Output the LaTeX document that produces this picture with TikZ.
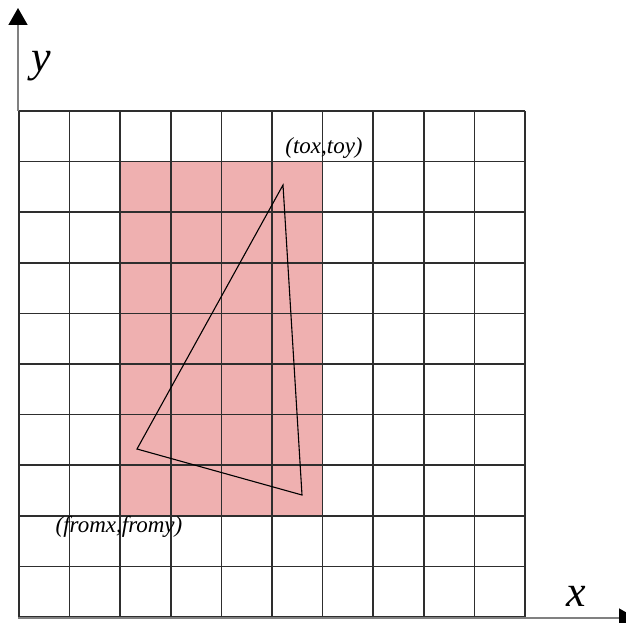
\documentclass[tikz,border=0pt]{standalone}
\usepackage{fontspec}
\setmainfont{Liberation Serif}
\usetikzlibrary{arrows.meta}
\definecolor{gridc}{HTML}{2E2E2E}
\definecolor{axisc}{HTML}{808080}
\definecolor{pinkc}{HTML}{EFB0B0}
\tikzset{
  gridline/.style={draw=gridc, line width=1.6pt},
  axisline/.style={draw=axisc, line width=1.5pt, -{Triangle[length=17pt,width=19pt,fill=black,color=black]}},
  tri/.style={draw=black, line width=1.1pt, line join=miter},
  lbl/.style={font=\fontsize{23}{23}\selectfont\itshape, inner sep=0pt},
  axlbl/.style={font=\fontsize{44}{44}\selectfont\itshape, inner sep=0pt}
}
\begin{document}
\begin{tikzpicture}[x=1pt,y=-1pt]
\useasboundingbox (0,0) rectangle (626,623);
\fill[white] (0,0) rectangle (626,623);
% pink region
\fill[pinkc] (120.2,161.6) rectangle (322.6,516.2);
% grid
\foreach \i in {0,...,10} {
  \draw[gridline] ({19+50.6*\i},111) -- ({19+50.6*\i},617);
  \draw[gridline] (19,{111+50.6*\i}) -- (525,{111+50.6*\i});
}
% axes
\coordinate (o) at (18,618);
\coordinate (ytip) at (18,8);
\coordinate (xtip) at (636,618);
\draw[axisline] (18,111) -- (ytip);
\draw[axisline] (o) -- (xtip);
\node[axlbl] (ylab) at (41,66) {y};
\node[axlbl] (xlab) at (576,596) {x};
% triangle
\coordinate (A) at (283,185);
\coordinate (B) at (137,449);
\coordinate (C) at (302,495);
\draw[tri] (A) -- (B) -- (C) -- cycle;
% labels
\node[lbl] (to) at (324,148) {(tox,toy)};
\node[lbl] (from) at (119,527) {(fromx,fromy)};
\end{tikzpicture}
\end{document}
